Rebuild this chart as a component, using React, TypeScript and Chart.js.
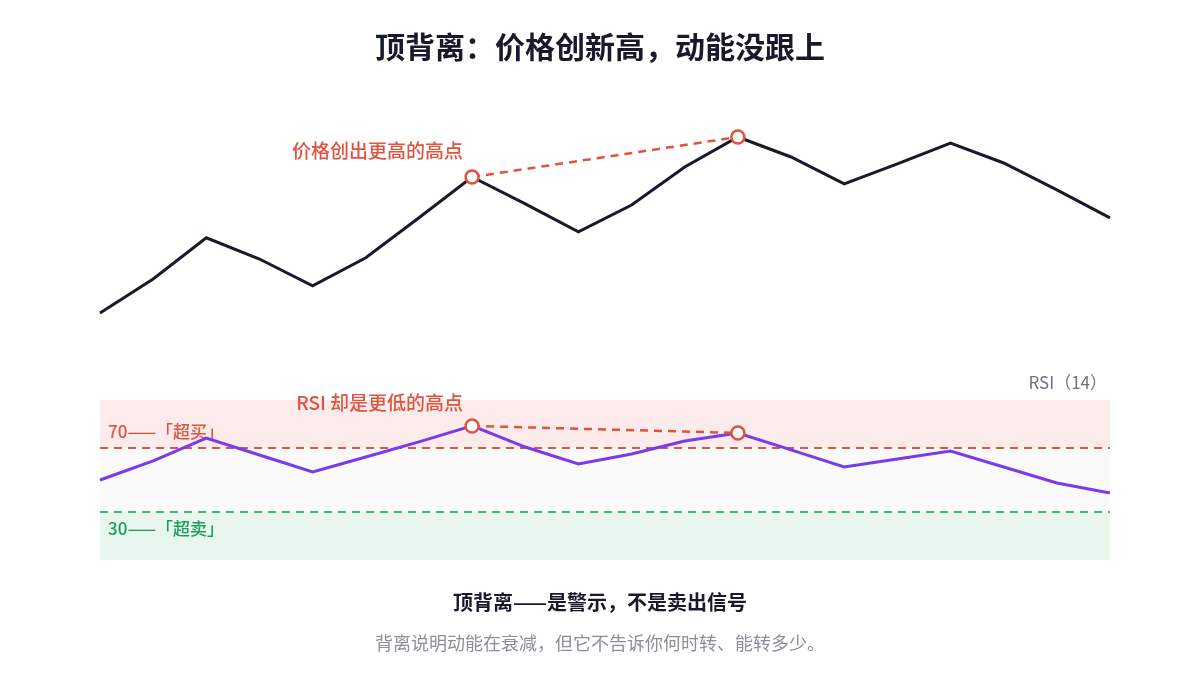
import { useEffect, useRef } from "react";
import { Chart, registerables } from "chart.js";

Chart.register(...registerables);

const categories = ["1", "2", "3", "4", "5", "6", "7", "8", "9", "10", "11", "12", "13", "14", "15", "16", "17", "18", "19", "20"];
const priceValues = [100, 108.5, 118.8, 113.5, 106.8, 113.8, 123.8, 134, 127.3, 120.3, 127, 136.5, 144, 139, 132.3, 137.3, 142.5, 137.5, 130.8, 123.8];
const rsiValues = [50, 62, 76.2, 65.6, 55, 64.4, 73.8, 83.8, 70.6, 60, 66.2, 74.4, 79.4, 68.8, 58.1, 63.1, 68.1, 58.1, 48.1, 41.9];
const highIndices = [7, 12];
const rsiLevels = [70, 30];
const rsiLevelLabels = ["70——「超买」", "30——「超卖」"];

const titleText = "顶背离：价格创新高，动能没跟上";
const priceNote = "价格创出更高的高点";
const rsiNote = "RSI 却是更低的高点";
const rsiTag = "RSI（14）";
const footerBold = "顶背离——是警示，不是卖出信号";
const footerText = "背离说明动能在衰减，但它不告诉你何时转、能转多少。";

const FONT = '"Noto Sans CJK SC", "Noto Sans", sans-serif';
const RED = "#e0533f";
const GREEN_TEXT = "#1a9f5c";
const GREEN_LINE = "#3dba6c";
const PURPLE = "#7c3aed";
const DARK = "#161a2b";

export default function App() {
  const ref = useRef<HTMLCanvasElement | null>(null);

  useEffect(() => {
    if (!ref.current) return;
    const pick = (arr: number[]) => arr.map((v, i) => (highIndices.includes(i) ? v : null));

    const bandsPlugin = {
      id: "bands",
      beforeDatasetsDraw(chart: any) {
        const { ctx, chartArea } = chart;
        const y2 = chart.scales.y2;
        const l = chartArea.left;
        const w = chartArea.right - chartArea.left;
        const p100 = y2.getPixelForValue(100);
        const p70 = y2.getPixelForValue(rsiLevels[0]);
        const p30 = y2.getPixelForValue(rsiLevels[1]);
        const p0 = y2.getPixelForValue(0);
        ctx.save();
        ctx.fillStyle = "#fbebea";
        ctx.fillRect(l, p100, w, p70 - p100);
        ctx.fillStyle = "#fafafa";
        ctx.fillRect(l, p70, w, p30 - p70);
        ctx.fillStyle = "#e9f6ee";
        ctx.fillRect(l, p30, w, p0 - p30);
        ctx.lineWidth = 2;
        ctx.setLineDash([8, 6]);
        ctx.strokeStyle = "#d9574a";
        ctx.beginPath();
        ctx.moveTo(l, p70);
        ctx.lineTo(l + w, p70);
        ctx.stroke();
        ctx.strokeStyle = GREEN_LINE;
        ctx.beginPath();
        ctx.moveTo(l, p30);
        ctx.lineTo(l + w, p30);
        ctx.stroke();
        ctx.setLineDash([]);
        ctx.font = `500 17px ${FONT}`;
        ctx.textBaseline = "middle";
        ctx.textAlign = "left";
        ctx.fillStyle = RED;
        ctx.fillText(rsiLevelLabels[0], l + 8, p70 - 16);
        ctx.fillStyle = GREEN_TEXT;
        ctx.fillText(rsiLevelLabels[1], l + 8, p30 + 17);
        ctx.restore();
      },
      afterDatasetsDraw(chart: any) {
        const { ctx, chartArea } = chart;
        const x = chart.scales.x;
        const y = chart.scales.y;
        const y2 = chart.scales.y2;
        const cx = chart.width / 2;
        ctx.save();
        ctx.textBaseline = "middle";
        ctx.textAlign = "center";
        ctx.fillStyle = DARK;
        ctx.font = `bold 30px ${FONT}`;
        ctx.fillText(titleText, cx, 47);
        const hx = x.getPixelForValue(highIndices[0]);
        ctx.textAlign = "right";
        ctx.fillStyle = RED;
        ctx.font = `500 19px ${FONT}`;
        ctx.fillText(priceNote, hx - 9, y.getPixelForValue(priceValues[highIndices[0]]) - 26);
        ctx.fillText(rsiNote, hx - 9, y2.getPixelForValue(rsiValues[highIndices[0]]) - 23);
        ctx.fillStyle = "#6b7280";
        ctx.font = `17px ${FONT}`;
        ctx.fillText(rsiTag, chartArea.right - 3, y2.getPixelForValue(100) - 17);
        ctx.textAlign = "center";
        ctx.fillStyle = DARK;
        ctx.font = `bold 20px ${FONT}`;
        ctx.fillText(footerBold, cx, 602);
        ctx.fillStyle = "#8a8f98";
        ctx.font = `18px ${FONT}`;
        ctx.fillText(footerText, cx, 643);
        ctx.restore();
      },
    };

    const chart = new Chart(ref.current, {
      type: "line",
      data: {
        labels: categories,
        datasets: [
          {
            data: pick(priceValues),
            yAxisID: "y",
            borderColor: RED,
            borderWidth: 2.5,
            borderDash: [8, 6],
            spanGaps: true,
            pointRadius: 6.5,
            pointBorderWidth: 2.5,
            pointBackgroundColor: "#ffffff",
            pointBorderColor: RED,
            fill: false,
          },
          {
            data: pick(rsiValues),
            yAxisID: "y2",
            borderColor: RED,
            borderWidth: 2.5,
            borderDash: [8, 6],
            spanGaps: true,
            pointRadius: 6.5,
            pointBorderWidth: 2.5,
            pointBackgroundColor: "#ffffff",
            pointBorderColor: RED,
            fill: false,
          },
          {
            data: priceValues,
            yAxisID: "y",
            borderColor: DARK,
            borderWidth: 3,
            pointRadius: 0,
            tension: 0,
            fill: false,
          },
          {
            data: rsiValues,
            yAxisID: "y2",
            borderColor: PURPLE,
            borderWidth: 3,
            pointRadius: 0,
            tension: 0,
            fill: false,
          },
        ],
      },
      options: {
        responsive: false,
        animation: false,
        layout: { padding: { left: 100, right: 90, top: 100, bottom: 140 } },
        plugins: { legend: { display: false }, tooltip: { enabled: false } },
        events: [],
        scales: {
          x: { type: "category", display: false, offset: false },
          y: { display: false, min: 38.25, max: 153.25 },
          y2: { display: false, min: 0, max: 287.5 },
        },
      },
      plugins: [bandsPlugin],
    });
    return () => chart.destroy();
  }, []);

  return (
    <div style={{ position: "absolute", left: 0, top: 0, width: 1200, height: 700, background: "#ffffff" }}>
      <canvas ref={ref} width={1200} height={700} style={{ display: "block", width: 1200, height: 700 }} />
    </div>
  );
}
